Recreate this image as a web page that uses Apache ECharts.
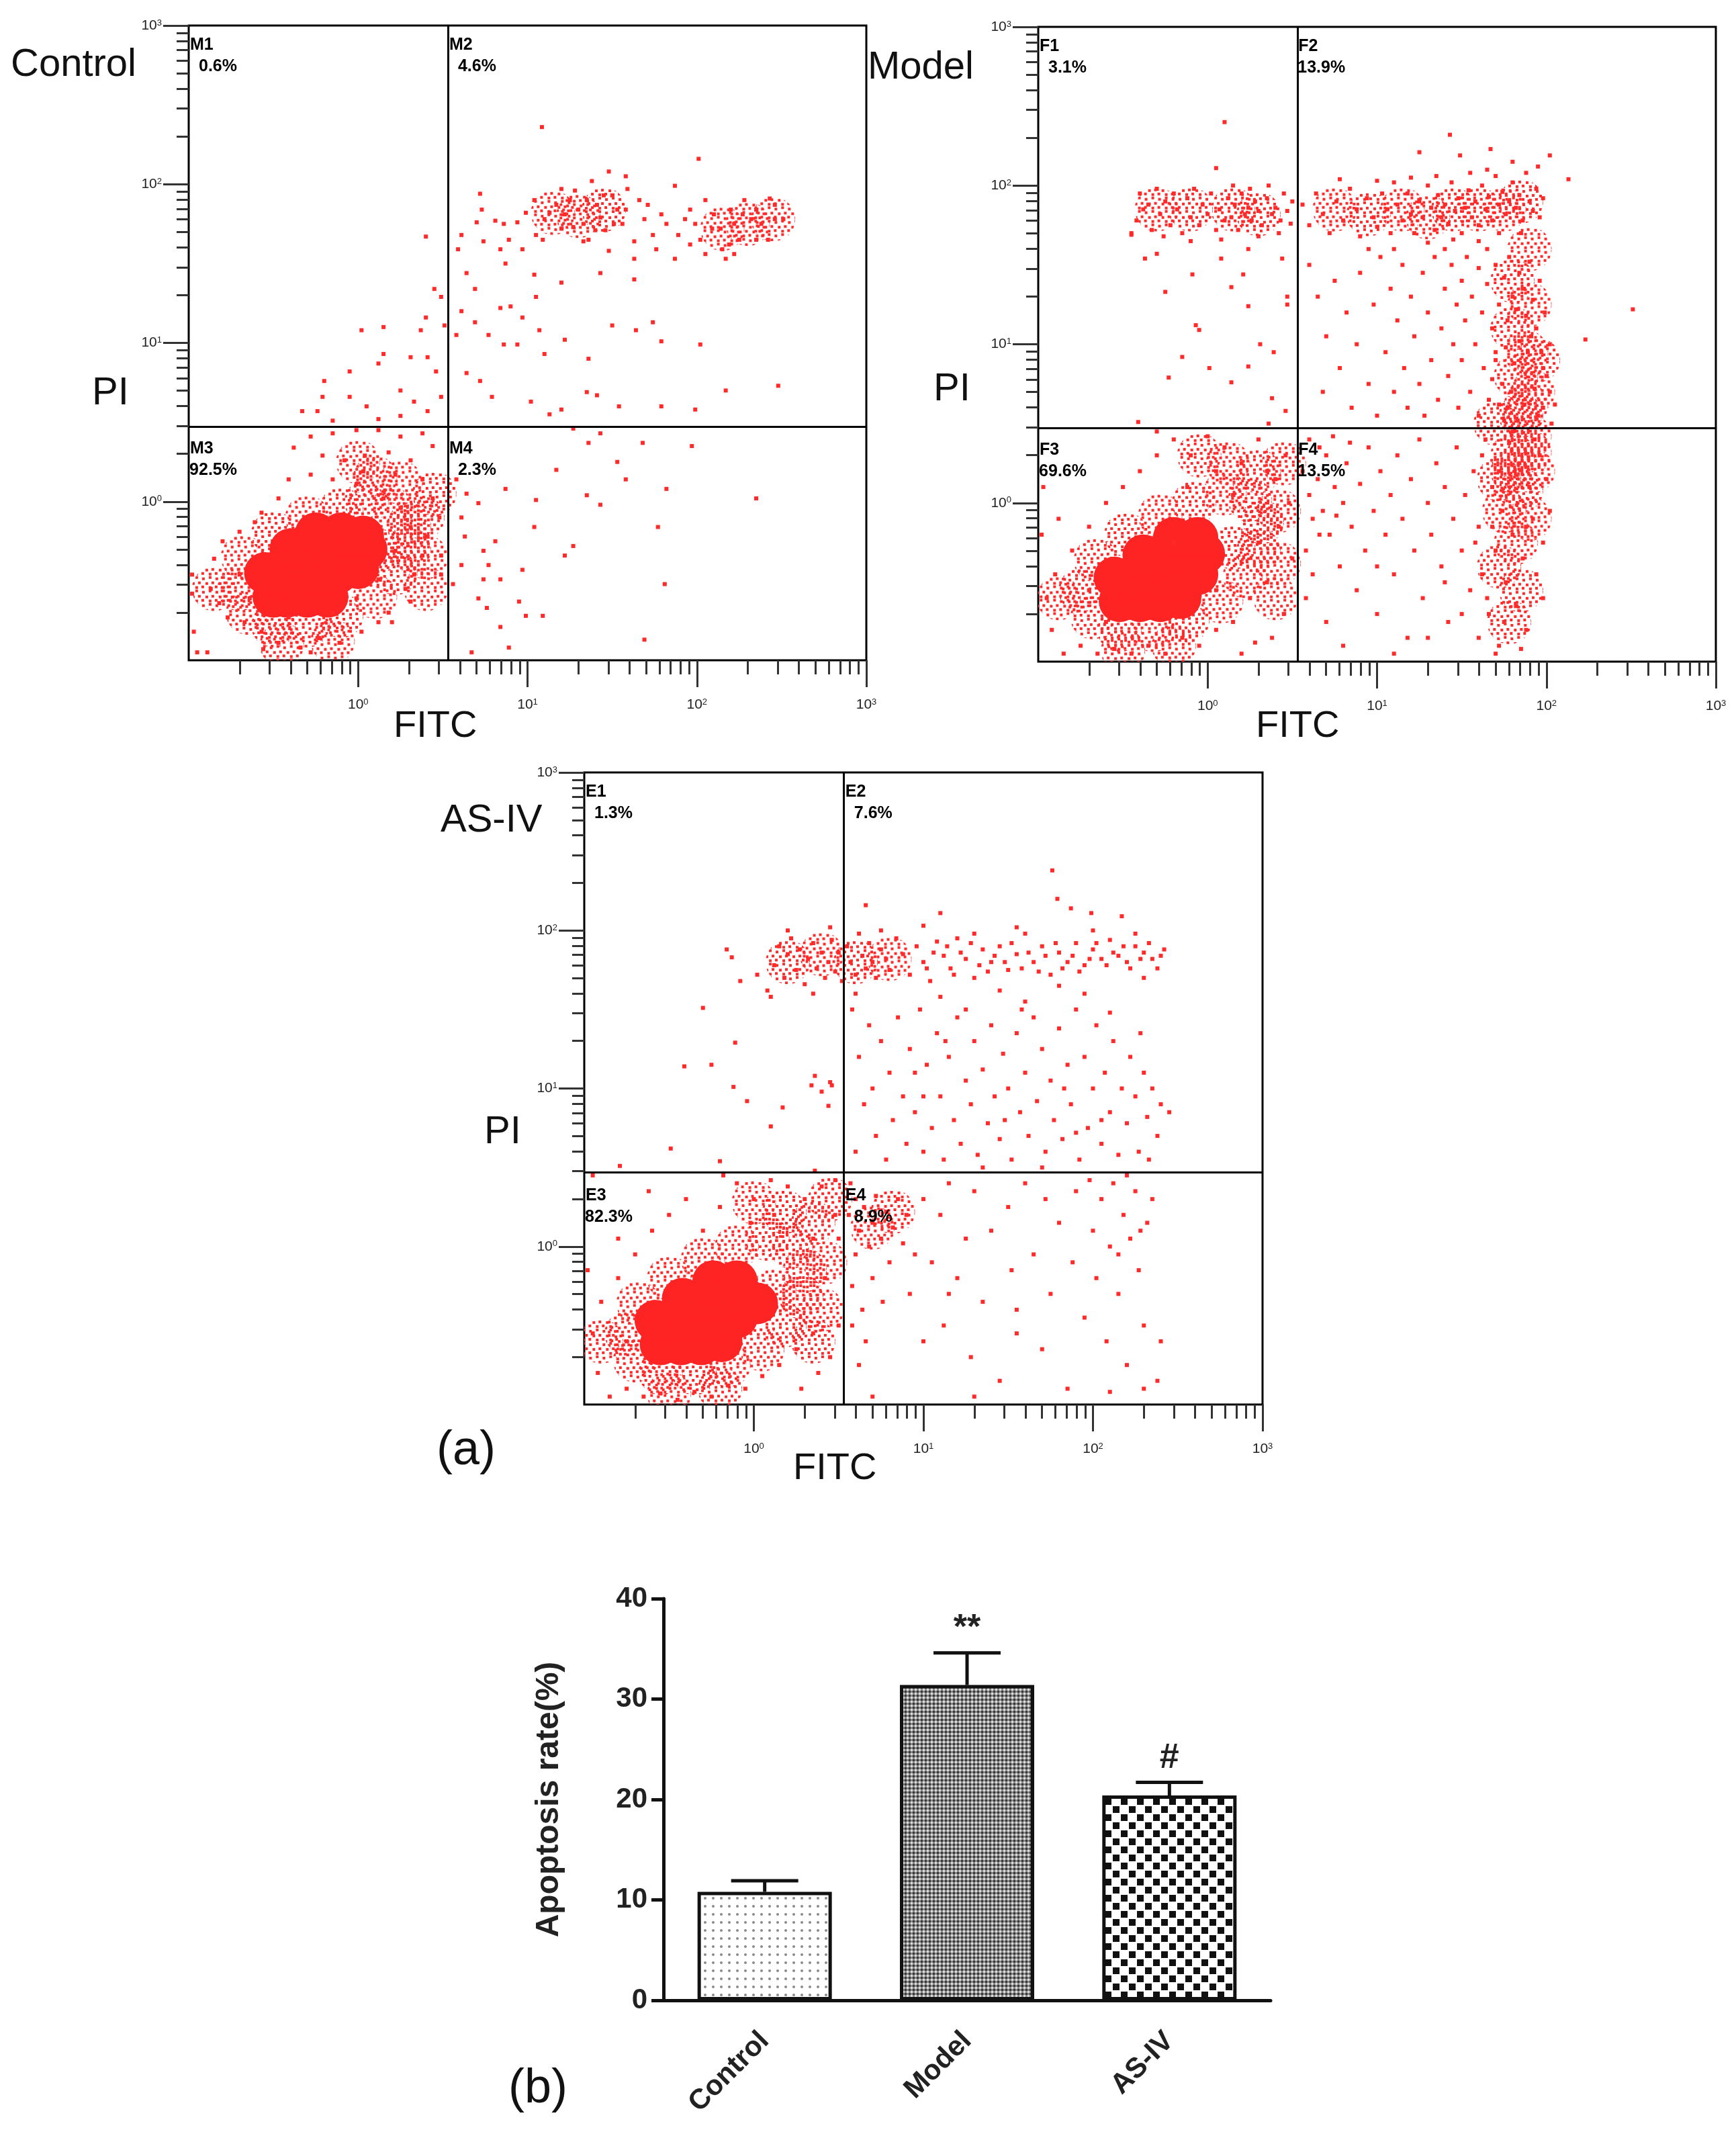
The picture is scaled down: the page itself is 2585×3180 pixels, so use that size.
<!DOCTYPE html>
<html>
<head>
<meta charset="utf-8">
<title>Apoptosis flow cytometry</title>
<script src="https://cdn.jsdelivr.net/npm/echarts@6/dist/echarts.min.js"></script>
<style>
  html, body { margin: 0; padding: 0; background: #fff; }
  #chart { width: 2585px; height: 3180px; }
</style>
</head>
<body>
<div id="chart"></div>
<script>
// Flow cytometry dot plots (Annexin V-FITC / PI) + apoptosis rate bar chart
// Dot plot coordinates are in log10 decades (x = FITC, y = PI)
// core = solid centre of the population, cloud = speckled dense areas, dots = single events

const FONT = '"Liberation Sans", Arial, sans-serif'

const panels = ['Control', 'Model', 'AS-IV']
const quadNames = [['M1', 'M2', 'M3', 'M4'], ['F1', 'F2', 'F3', 'F4'], ['E1', 'E2', 'E3', 'E4']]
const quadPct = [['0.6%', '4.6%', '92.5%', '2.3%'], ['3.1%', '13.9%', '69.6%', '13.5%'], ['1.3%', '7.6%', '82.3%', '8.9%']]
const gateX = [0.53, 0.527, 0.532]
const gateY = [0.475, 0.475, 0.465]
const decadeTicks = [0, 1, 2, 3]

// ---- Control ----
const ctrlCore = [[-0.5,-0.6],[-0.42,-0.6],[-0.3,-0.6],[-0.18,-0.6],[-0.55,-0.45],[-0.5,-0.45],[-0.37,-0.45],[-0.24,-0.45],[-0.12,-0.45],[0,-0.42],[-0.4,-0.3],[-0.28,-0.3],[-0.15,-0.3],[-0.02,-0.3],[0.05,-0.3],[-0.25,-0.2],[-0.1,-0.2],[0.03,-0.22]]
const ctrlCloud = [[-0.7,-0.55],[-0.65,-0.7],[-0.5,-0.78],[-0.3,-0.78],[-0.1,-0.72],[0.1,-0.6],[0.22,-0.45],[0.3,-0.3],[0.3,-0.15],[0.2,-0.05],[0.05,0],[-0.1,-0.05],[-0.3,-0.1],[-0.5,-0.2],[-0.68,-0.35],[0.15,-0.3],[0.4,-0.35],[0.38,-0.1],[0.25,0.12],[0.1,0.15],
  [-0.85,-0.55],[-0.45,-0.9],[-0.15,-0.88],[0.45,0.05],[0.4,-0.55],[0,0.25],
  [1.15,1.82],[1.3,1.8],[1.45,1.84],[2.15,1.72],[2.3,1.75],[2.45,1.78]]
const ctrlDots = [
  [1.085,2.36],[2.01,2.16],[1.48,2.08],[1.58,2.05],[0.72,1.94],[0.73,1.84],[0.61,1.68],[0.70,1.76],[0.81,1.77],[0.86,1.75],[0.94,1.76],[0.99,1.82],[1.05,1.68],[1.10,1.78],[1.17,1.87],[1.20,1.97],[1.25,1.90],[1.30,1.84],[1.33,1.75],[1.36,1.65],[1.38,2.02],[1.41,1.87],[1.43,1.79],[1.46,1.71],[1.50,1.93],[1.53,1.84],[1.56,1.75],[1.59,1.97],[1.63,1.64],[1.66,1.90],[1.69,1.78],[1.74,1.68],[1.79,1.81],[1.82,1.75],[1.87,1.99],[1.89,1.68],[1.96,1.84],[1.99,1.75],[2.02,1.65],[2.05,1.90],[2.10,1.81],[2.14,1.72],[2.15,1.59],[2.19,1.62],[2.20,1.84],[2.22,1.75],[2.25,1.65],[2.28,1.90],[2.32,1.78],[2.35,1.84],[2.38,1.75],[2.43,1.91],[2.46,1.87],[2.51,1.78],[2.42,1.65],[2.17,1.53],[2.22,1.56],[2.05,1.56],[1.96,1.62],[1.87,1.53],[1.76,1.59],[1.63,1.53],[1.48,1.58],[1.33,1.64],[1.20,1.72],[1.09,1.65],[0.97,1.59],[0.89,1.65],[1.28,1.96],[1.35,1.90],[1.22,1.81],[1.27,1.73],[1.40,1.71],[1.45,1.93],[1.51,1.75],[1.58,1.84],[1.71,1.87],[1.93,1.78],[2.09,1.72],[2.27,1.81],[2.35,1.65],[2.46,1.78],[1.04,1.90],[1.13,1.82],[0.74,1.64],[0.84,1.59],
  [0.87,1.50],[1.04,1.43],[1.05,1.29],[1.20,1.38],[1.43,1.44],[1.63,1.40],[0.61,1.20],[0.69,1.13],[0.77,1.05],[0.84,1.22],[0.90,1.23],[0.97,1.16],[0.86,0.99],[0.94,0.99],[1.07,1.08],[1.10,0.93],[1.22,1.02],[1.36,0.90],[1.50,1.11],[1.64,1.08],[1.74,1.13],[1.79,1.01],[2.02,0.99],[0.64,0.81],[0.72,0.76],[0.79,0.66],[1.02,0.63],[1.13,0.55],[1.20,0.58],[1.35,0.69],[1.41,0.67],[1.54,0.60],[1.79,0.60],[1.99,0.58],[2.17,0.70],[2.48,0.73],[0.59,1.59],[0.58,1.05],[0.64,1.44],[0.69,1.34],
  [0.40,1.67],[0.45,1.34],[0.40,1.16],[0.37,1.08],[0.02,1.08],[0.15,1.10],[0.15,0.93],[0.12,0.87],[0.31,0.91],[0.41,0.91],[0.46,0.82],[-0.05,0.82],[-0.20,0.76],[-0.21,0.66],[-0.33,0.57],[-0.24,0.57],[-0.05,0.66],[0.05,0.60],[0.25,0.70],[0.33,0.63],[0.41,0.57],[0.49,0.66],[0.25,0.54],[-0.15,0.51],[0.12,0.52],[0.51,1.11],[0.49,1.29],
  [-0.28,0.41],[-0.15,0.43],[-0.01,0.45],[0.12,0.45],[0.25,0.41],[0.38,0.43],[0.44,0.35],[-0.38,0.34],[-0.21,0.29],[-0.08,0.26],[0.04,0.29],[0.18,0.31],[0.31,0.26],[0.22,0.17],[0.03,0.19],[-0.15,0.14],[-0.28,0.17],[-0.41,0.14],[-0.47,0.02],[-0.57,-0.07],[0.38,0.14],[0.44,0.02],[0.48,-0.10],[0.41,-0.22],[0.38,-0.34],[0.33,-0.46],[0.28,-0.55],[0.18,-0.70],[0.12,-0.76],[0.02,-0.82],[-0.11,-0.89],[-0.23,-0.86],[-0.34,-0.92],[-0.47,-0.89],[-0.57,-0.82],[-0.67,-0.76],[-0.77,-0.73],[-0.82,-0.64],[-0.87,-0.55],[-0.85,-0.36],[-0.80,-0.25],[-0.70,-0.19],[-0.61,-0.13],[-0.97,-0.82],[-0.95,-0.95],[-0.89,-0.95],[-0.98,-0.58],[-0.98,-0.46],[-0.28,-0.95],[-0.56,-0.93],[0.20,-0.76],[0.31,-0.63],[0.49,-0.46],[0.49,-0.34],[0.25,-0.04],[0.15,0.02],[-0.01,0.11],[0.31,-0.16],[0.22,-0.31],[-0.15,-0.70],[-0.41,-0.73],[-0.64,-0.61],[-0.70,-0.46],[-0.01,-0.61],[0.12,-0.49],
  [0.58,0.14],[0.64,0.05],[0.71,-0.01],[0.61,-0.10],[0.63,-0.22],[0.74,-0.31],[0.77,-0.40],[0.81,-0.25],[0.84,-0.49],[0.71,-0.61],[0.76,-0.67],[0.67,-0.95],[0.89,-0.92],[0.97,-0.43],[1.04,-0.16],[1.05,0.01],[0.95,-0.63],[1.09,-0.72],[1.17,0.20],[1.27,-0.28],[1.35,0.04],[1.43,-0.02],[1.53,0.25],[1.58,0.14],[1.68,0.37],[1.77,-0.16],[1.81,-0.52],[1.82,0.08],[1.97,0.35],[2.35,0.02],[1.36,0.37],[1.43,0.43],[1.27,0.46],[1.69,-0.87],[0.61,-0.40],[0.56,-0.52],[0.74,-0.49],[0.87,0.08],[0.84,-0.79],[0.99,-0.72],[1.22,-0.34]
]

// ---- Model ----
const modelCore = [[-0.52,-0.62],[-0.4,-0.62],[-0.28,-0.62],[-0.16,-0.6],[-0.55,-0.47],[-0.42,-0.47],[-0.3,-0.47],[-0.18,-0.47],[-0.06,-0.45],[-0.38,-0.33],[-0.26,-0.33],[-0.14,-0.33],[-0.02,-0.32],[-0.2,-0.22],[-0.06,-0.22]]
const modelCloud = [[-0.75,-0.55],[-0.68,-0.72],[-0.52,-0.8],[-0.32,-0.8],[-0.12,-0.74],[0.08,-0.62],[0.22,-0.46],[0.3,-0.3],[0.32,-0.12],[0.25,0.02],[0.1,0.06],[-0.08,0],[-0.28,-0.08],[-0.48,-0.2],[-0.66,-0.36],[0.15,-0.28],[0.42,-0.38],[0.42,-0.05],[0.3,0.2],[0.12,0.25],[0.45,0.25],
  [-0.88,-0.6],[-0.5,-0.93],[-0.2,-0.9],[0.4,-0.6],[-0.05,0.3],
  [1.85,1.9],[1.75,1.85],[1.9,1.6],[1.8,1.4],[1.9,1.25],[1.8,1.1],[1.88,0.95],[1.82,0.8],[1.92,0.7],[1.85,0.55],[1.9,0.42],[1.8,0.3],[1.92,0.2],[1.85,0.08],[1.75,-0.05],[1.9,-0.1],[1.82,-0.25],[1.72,-0.4],[1.85,-0.55],[1.78,-0.75],[1.7,0.5],[1.95,0.9],[1.72,0.15],[1.88,0.62],[1.8,0.2],[1.9,0.32],
  [1.6,1.85],[1.45,1.85],[1.3,1.8],[1.15,1.85],[0.95,1.82],[0.75,1.85],[0.15,1.85],[0.3,1.82],[-0.1,1.85],[-0.3,1.85]]
const modelDots = [
  [0.10,2.40],[0.05,2.11],
  [-0.42,1.78],[-0.4,1.95],[-0.35,1.88],[-0.33,1.72],[-0.3,1.98],[-0.28,1.82],[-0.25,1.9],[-0.22,1.75],[-0.2,1.95],[-0.18,1.85],[-0.15,1.7],[-0.12,1.92],[-0.1,1.8],[-0.08,1.98],[-0.05,1.75],[-0.03,1.88],[0,1.82],[0.02,1.95],[0.05,1.72],[0.07,1.85],[0.1,1.78],[0.12,1.92],[0.14,1.8],[0.16,1.88],[0.18,1.72],[0.2,1.95],[0.22,1.82],[0.24,1.86],[0.26,1.78],[0.28,1.9],[0.3,1.84],[0.32,1.75],[0.35,1.92],[0.38,1.82],[0.4,1.86],[0.43,1.78],[0.45,1.95],[0.47,1.84],[0.5,1.9],[0.49,1.76],[-0.38,1.85],[-0.26,1.68],[0.08,1.66],[0.3,1.68],[-0.1,1.65],[0.42,1.7],[-0.45,1.7],[0.15,2.0],[0.36,2.0],[0.25,1.98],
  [-0.30,1.57],[-0.25,1.33],[-0.09,1.44],[0.21,1.44],[0.14,1.36],[0.47,1.30],[0.47,1.25],[-0.07,1.12],[-0.05,1.09],[0.24,1.24],[0.31,1.00],[0.39,0.95],[-0.15,0.92],[0.01,0.85],[0.14,0.76],[-0.23,0.79],[0.24,0.86],[0.38,0.66],[-0.41,0.51],[0.46,0.58],[0.36,0.50],[0.44,1.54],[0.08,1.54],[0.24,1.60],[-0.37,1.54],[-0.45,1.69],
  [2.13,2.04],[2.51,1.22],[2.23,1.03],[2.02,2.19],[1.43,2.32],[1.25,2.21],[1.49,2.19],[1.67,2.23],
  [0.56,1.88],[0.6,1.75],[0.64,1.95],[0.68,1.82],[0.72,1.7],[0.76,1.9],[0.8,1.78],[0.84,1.98],[0.88,1.85],[0.9,1.68],[0.94,1.92],[0.98,1.8],[1.0,1.74],[1.03,1.95],[1.06,1.85],[1.08,1.7],[1.1,2.02],[1.12,1.88],[1.15,1.78],[1.18,1.95],[1.2,1.82],[1.22,1.7],[1.25,1.9],[1.27,1.8],[1.3,2.0],[1.32,1.86],[1.34,1.72],[1.36,1.94],[1.38,1.8],[1.4,1.88],[1.42,1.76],[1.44,2.02],[1.46,1.84],[1.48,1.92],[1.5,1.7],[1.52,1.86],[1.54,1.97],[1.56,1.8],[1.58,1.9],[1.6,1.75],[1.62,2.0],[1.64,1.85],[1.66,1.93],[1.68,1.78],[1.7,2.06],[1.72,1.88],[1.74,1.96],[1.76,1.82],[1.78,1.9],[1.8,2.02],[1.82,1.86],[1.84,1.94],[1.86,1.78],[1.88,2.08],[1.9,1.9],[1.92,1.84],[1.94,1.98],[1.96,1.8],[1.98,1.92],[1.72,1.7],[1.6,1.65],[1.45,1.66],[1.3,1.64],[1.85,1.7],[1.95,2.12],[1.8,2.15],[1.65,2.1],[1.55,2.08],[1.35,2.06],[1.2,2.05],[1.0,2.03],[0.78,2.04],
  [0.6,1.5],[0.65,1.3],[0.7,1.05],[0.68,0.7],[0.75,1.4],[0.78,0.85],[0.82,1.2],[0.85,0.6],[0.88,1.0],[0.9,1.45],[0.95,0.75],[0.98,1.25],[1.0,0.55],[1.02,1.55],[1.05,0.95],[1.08,1.35],[1.1,0.7],[1.12,1.15],[1.15,1.5],[1.16,0.85],[1.18,0.6],[1.2,1.3],[1.22,1.05],[1.25,0.75],[1.27,1.45],[1.28,0.55],[1.3,1.2],[1.32,0.9],[1.34,1.55],[1.36,0.65],[1.38,1.1],[1.4,1.35],[1.42,0.8],[1.44,1.5],[1.45,1.0],[1.47,1.25],[1.48,0.6],[1.5,1.4],[1.5,0.9],[1.52,1.15],[1.53,1.55],[1.55,0.7],[1.56,1.3],[1.58,1.0],[1.6,1.48],[1.6,0.55],[1.62,1.2],[1.63,0.85],[1.65,1.38],[1.66,0.65],[1.68,1.1],[1.7,1.5],[1.7,0.95],[1.72,1.25],[1.74,0.75],[1.75,1.42],[1.77,1.15],[1.78,1.55],[1.8,1.3],[1.82,1.22],[1.84,1.45],[1.86,1.35],[1.88,1.18],[1.9,1.52],[1.92,1.28],[1.94,1.1],[1.96,1.4],[1.97,0.95],[1.99,1.2],[2.0,0.8],[2.02,1.0],[1.98,0.6],[2.03,0.5],[1.65,1.6],[1.4,1.6],[0.95,1.6],[1.1,1.6],
  [1.7,0.9],[1.72,0.62],[1.76,0.98],[1.79,0.7],[1.81,0.88],[1.83,0.52],[1.87,0.62],[1.89,0.95],[1.93,0.72],[1.95,0.55],[1.98,0.85],[1.75,0.52],[1.68,0.78],[1.91,1.05],[1.84,1.02],[1.77,0.6],[2.02,0.7],[2.05,0.62],
  [0.56,0.2],[0.6,0.05],[0.62,-0.1],[0.58,-0.3],[0.65,0.15],[0.68,-0.05],[0.7,0.3],[0.72,-0.2],[0.75,0.1],[0.78,-0.4],[0.8,0],[0.82,0.25],[0.85,-0.15],[0.88,-0.55],[0.9,0.12],[0.93,-0.3],[0.95,0.35],[0.98,-0.05],[1.0,-0.7],[1.02,0.2],[1.05,-0.2],[1.08,0.05],[1.1,-0.45],[1.12,0.3],[1.15,-0.1],[1.18,-0.85],[1.2,0.15],[1.22,-0.3],[1.25,0.4],[1.27,-0.6],[1.3,0],[1.32,-0.2],[1.35,0.25],[1.38,-0.4],[1.4,0.1],[1.42,-0.75],[1.45,-0.1],[1.47,0.35],[1.5,-0.3],[1.52,0.05],[1.55,-0.55],[1.57,0.2],[1.6,-0.15],[1.62,-0.45],[1.64,0.4],[1.66,-0.7],[1.68,0.1],[1.7,-0.3],[1.72,-0.9],[1.74,-0.05],[1.76,-0.5],[1.78,0.38],[1.8,-0.2],[1.82,-0.65],[1.84,0.25],[1.86,-0.35],[1.88,-0.8],[1.9,0.1],[1.92,-0.1],[1.94,-0.45],[1.96,0.3],[1.98,-0.25],[2.0,0.15],[1.98,-0.6],[2.02,-0.05],[1.7,-0.95],[1.85,-0.92],[1.6,-0.85],[1.65,-0.6],[1.75,-0.75],[1.58,-0.25],[1.68,-0.15],[1.88,-0.15],[1.93,0.4],[1.8,0.45],[1.62,0.3],[1.72,0.2],[1.5,-0.7],[1.4,-0.5],[1.1,-0.95],[0.8,-0.9],[0.7,-0.75],[0.58,-0.6],[1.3,-0.85],[1.0,-0.4],[0.6,0.4],[0.66,0.35],[0.74,0.42],[0.62,-0.45],[0.66,-0.2],[0.76,-0.08],[0.84,0.38],
  [-0.95,-0.6],[-0.9,-0.45],[-0.92,-0.8],[-0.85,-0.95],[-0.8,-0.3],[-0.75,-0.9],[-0.7,-0.15],[-0.65,-0.95],[-0.6,0],[-0.55,-0.92],[-0.5,0.1],[-0.45,-0.95],[-0.4,0.2],[-0.35,-0.9],[-0.3,0.3],[-0.25,-0.95],[-0.2,0.4],[-0.15,-0.85],[-0.1,0.3],[-0.05,-0.9],[0,0.42],[0.05,-0.8],[0.1,0.35],[0.15,-0.75],[0.2,0.25],[0.25,-0.6],[0.3,0.4],[0.35,-0.5],[0.4,0.15],[0.45,-0.7],[0.48,0],[0.5,-0.35],[0.42,-0.15],[0.46,0.3],[0.38,-0.85],[0.28,-0.88],[0.2,-0.95],[-0.98,-0.2],[-0.97,0.1],[-0.88,-0.1],[-0.3,0.45],[0.05,0.2],[0.15,0.05],[-0.12,0.1],[-0.6,-0.75],[-0.7,-0.55],[0.3,-0.25],[0.35,0.2],[0.05,-0.55],[-0.2,-0.25]
]

// ---- AS-IV ----
const asivCore = [[-0.55,-0.62],[-0.43,-0.62],[-0.31,-0.62],[-0.19,-0.6],[-0.58,-0.47],[-0.46,-0.47],[-0.34,-0.47],[-0.22,-0.47],[-0.1,-0.45],[-0.42,-0.33],[-0.3,-0.33],[-0.18,-0.33],[-0.06,-0.32],[0.02,-0.36],[-0.24,-0.22],[-0.1,-0.22]]
const asivCloud = [[-0.75,-0.55],[-0.7,-0.72],[-0.55,-0.8],[-0.35,-0.8],[-0.15,-0.75],[0.05,-0.65],[0.18,-0.5],[0.28,-0.32],[0.3,-0.15],[0.22,0],[0.08,0.05],[-0.1,0],[-0.3,-0.08],[-0.5,-0.2],[-0.68,-0.36],[0.12,-0.28],[0.4,-0.4],[0.42,-0.1],[0.35,0.15],[0.18,0.22],[0.45,0.3],
  [-0.9,-0.6],[-0.5,-0.93],[-0.2,-0.9],[0.35,-0.6],[0,0.28],
  [0.2,1.8],[0.4,1.85],[0.6,1.8],[0.8,1.82],[0.7,0.12],[0.82,0.22]]
const asivDots = [
  [1.76,2.38],[0.66,2.16],[1.10,2.11],[1.79,2.20],[1.99,2.11],[2.17,2.09],[1.87,2.14],
  [0.08,1.62],[0.12,1.78],[0.15,1.9],[0.18,1.7],[0.2,1.85],[0.22,1.95],[0.25,1.75],[0.27,1.88],[0.3,1.66],[0.32,1.82],[0.35,1.92],[0.37,1.76],[0.4,1.86],[0.42,1.7],[0.44,1.8],[0.46,1.94],[0.48,1.74],[0.5,1.86],[0.52,1.68],[0.55,1.9],[0.57,1.8],[0.6,1.72],[0.62,1.98],[0.64,1.84],[0.66,1.76],[0.68,1.92],[0.7,1.8],[0.72,1.7],[0.75,1.88],[0.78,1.82],[0.8,1.75],[0.84,1.95],[0.88,1.85],[0.92,1.72],[0.96,1.9],[1.0,1.8],[1.04,1.68],[1.08,1.93],[1.12,1.84],[1.16,1.76],[1.2,1.95],[1.25,1.82],[1.3,1.7],[1.35,1.88],[1.4,1.8],[1.45,1.9],[1.5,1.75],[1.55,1.85],[1.6,1.98],[1.65,1.8],[1.7,1.9],[1.75,1.72],[1.8,1.86],[1.85,1.8],[1.9,1.92],[1.95,1.78],[2.0,1.88],[2.05,1.82],[2.1,1.94],[2.15,1.84],[2.2,1.8],[2.25,1.9],[2.3,1.86],[2.35,1.82],[2.4,1.84],[2.0,2.0],[1.55,2.02],[1.3,1.98],[1.0,2.03],[0.75,2.0],[0.45,2.02],[0.2,2.0],[2.25,1.98],[1.8,1.65],[1.45,1.62],[1.1,1.58],[0.6,1.6],[0.35,1.6],[2.3,1.7],[1.95,1.6],[1.6,1.55],[-0.13,1.83],[-0.08,1.68],[0.02,1.72],[0.1,1.58],
  [1.02,1.76],[1.06,1.86],[1.14,1.9],[1.18,1.72],[1.22,1.86],[1.28,1.92],[1.33,1.78],[1.38,1.74],[1.42,1.84],[1.48,1.8],[1.52,1.92],[1.58,1.76],[1.62,1.86],[1.68,1.74],[1.72,1.84],[1.78,1.92],[1.82,1.76],[1.88,1.84],[1.92,1.74],[1.98,1.82],[2.02,1.92],[2.08,1.78],[2.12,1.86],[2.18,1.9],[2.22,1.76],[2.28,1.82],[2.33,1.92],[2.38,1.76],[2.42,1.88],
  [-0.16,1.88],[-0.30,1.51],[-0.41,1.14],[-0.25,1.15],[-0.11,1.29],[-0.12,1.01],[-0.04,0.92],[0.17,0.88],[0.36,1.08],[0.40,0.98],[0.44,0.89],[0.46,1.02],[0.10,0.76],[-0.49,0.62],[-0.79,0.51],[-0.20,0.54],[0.36,0.48],[0.45,1.04],[0.34,1.02],
  [0.58,1.5],[0.62,1.2],[0.65,0.9],[0.6,0.6],[0.68,1.4],[0.7,1.0],[0.72,0.7],[0.75,1.3],[0.78,0.55],[0.8,1.1],[0.82,0.8],[0.85,1.45],[0.88,0.95],[0.9,0.65],[0.92,1.25],[0.95,0.85],[0.98,1.5],[1.0,0.6],[1.02,1.15],[1.05,0.75],[1.08,1.35],[1.1,0.95],[1.12,0.55],[1.15,1.2],[1.18,0.8],[1.2,1.45],[1.22,0.65],[1.25,1.05],[1.28,0.9],[1.3,1.3],[1.32,0.58],[1.35,1.12],[1.38,0.78],[1.4,1.4],[1.42,0.95],[1.45,0.68],[1.47,1.22],[1.5,1.0],[1.52,0.55],[1.55,1.35],[1.57,0.85],[1.6,1.1],[1.62,0.7],[1.65,1.45],[1.67,0.92],[1.7,1.25],[1.72,0.6],[1.75,1.05],[1.77,0.8],[1.8,1.38],[1.82,0.68],[1.85,1.15],[1.87,0.9],[1.9,1.5],[1.92,0.55],[1.95,1.2],[1.97,0.75],[2.0,1.0],[2.02,1.4],[2.05,0.65],[2.07,1.1],[2.1,0.85],[2.12,1.3],[2.15,0.58],[2.17,1.0],[2.2,0.78],[2.22,1.2],[2.25,0.95],[2.27,0.6],[2.3,1.1],[2.32,0.82],[2.35,1.0],[2.38,0.7],[2.4,0.9],[2.33,0.55],[2.28,1.35],[1.58,1.5],[1.25,1.5],[1.0,0.95],[1.13,1.3],[1.48,0.8],[1.83,1.0],[2.1,1.48],[1.7,0.5],[1.35,0.5],[0.95,1.1],[2.45,0.85],[2.05,0.8],[1.9,0.72],
  [0.56,0.2],[0.6,0.3],[0.62,0.1],[0.65,0.25],[0.68,0],[0.7,0.15],[0.72,0.32],[0.75,0.05],[0.78,0.22],[0.8,-0.1],[0.82,0.12],[0.85,0.3],[0.88,0.02],[0.6,-0.05],[0.58,-0.25],[0.64,-0.4],[0.7,-0.2],[0.66,-0.6],[0.76,-0.35],[0.9,0.2],[0.95,-0.05],[0.92,-0.3],[0.58,-0.5],[0.62,-0.75],[0.7,-0.95],[0.57,0.4],
  [1.0,0.3],[1.05,-0.1],[1.1,0.2],[1.12,-0.5],[1.15,0.4],[1.2,-0.2],[1.25,0.05],[1.28,-0.7],[1.3,0.35],[1.35,-0.35],[1.4,0.1],[1.45,-0.85],[1.5,0.25],[1.52,-0.15],[1.55,-0.55],[1.6,0.4],[1.65,-0.05],[1.7,-0.65],[1.72,0.3],[1.75,-0.3],[1.8,0.15],[1.85,-0.9],[1.88,-0.1],[1.9,0.35],[1.95,-0.45],[2.0,0.1],[2.02,-0.2],[2.05,0.3],[2.08,-0.6],[2.1,0],[2.12,0.4],[2.15,-0.3],[2.18,0.2],[2.2,-0.75],[2.22,0.05],[2.25,0.35],[2.27,-0.15],[2.3,-0.5],[2.32,0.15],[2.35,0.3],[2.38,-0.85],[2.1,-0.92],[2.3,-0.9],[2.4,-0.6],[1.98,0.42],[2.2,0.45],[1.3,-0.95],[1.0,-0.6],[1.55,-0.4],[1.15,-0.3],[2.15,-0.05],[2.28,0.1],
  [-0.95,-0.55],[-0.92,-0.8],[-0.85,-0.95],[-0.9,-0.35],[-0.8,-0.2],[-0.75,-0.9],[-0.7,-0.05],[-0.65,-0.95],[-0.6,0.1],[-0.55,-0.93],[-0.5,0.2],[-0.45,-0.97],[-0.4,0.3],[-0.35,-0.92],[-0.3,0.1],[-0.25,-0.95],[-0.2,0.25],[-0.15,-0.88],[-0.1,0.4],[-0.05,-0.9],[0,0.3],[0.05,-0.82],[0.1,0.42],[0.15,-0.75],[0.2,0.38],[0.25,-0.65],[0.3,0.3],[0.35,-0.55],[0.4,0.38],[0.45,-0.7],[0.48,0.2],[0.5,-0.5],[0.48,0.42],[0.38,-0.8],[0.28,-0.9],[-0.98,-0.15],[-0.95,0.45],[-0.8,0.05],[-0.62,0.35],[-0.18,0.45],[0.12,0.2],[-0.02,0.15],[0.35,0.05],[-0.75,-0.6],[0.42,-0.2],[0.5,0.05]
]

// ---- bar chart (b) ----
const groups = ['Control', 'Model', 'AS-IV']
const rates = [10.8, 31.4, 20.4]
const rateErr = [1.1, 3.2, 1.3]
const sigMarks = ['', '**', '#']

const cores = [ctrlCore, modelCore, asivCore]
const clouds = [ctrlCloud, modelCloud, asivCloud]
const dots = [ctrlDots, modelDots, asivDots]

// minor log ticks (2..9 within each decade)
const minorDecades = []
for (let d = -1; d < 3; d++) for (let k = 2; k <= 9; k++) minorDecades.push(d + Math.log10(k))

const plotGrids = [
  { left: 281, top: 38, width: 1009, height: 945 },
  { left: 1546, top: 40, width: 1009, height: 945 },
  { left: 870, top: 1150, width: 1010, height: 941 }
]
const barGrid = { left: 988, top: 2380, width: 904, height: 598 }

function makePattern(size, draw) {
  const c = document.createElement('canvas')
  c.width = size; c.height = size
  const ctx = c.getContext('2d')
  draw(ctx, size)
  return { image: c, repeat: 'repeat' }
}

// speckle texture for dense event clouds
const speckle = makePattern(20, ctx => {
  ctx.fillStyle = '#ff2a2a'
  ;[[2, 3], [12, 1], [7, 10], [16, 9], [1, 15], [12, 16]].forEach(p => ctx.fillRect(p[0], p[1], 4, 4))
})

const barPatterns = [
  makePattern(12, (ctx, s) => {
    ctx.fillStyle = '#fff'; ctx.fillRect(0, 0, s, s)
    ctx.fillStyle = '#8a8a8a'
    ctx.beginPath(); ctx.arc(6, 6, 2, 0, Math.PI * 2); ctx.fill()
  }),
  makePattern(6, (ctx, s) => {
    ctx.fillStyle = '#888'; ctx.fillRect(0, 0, s, s)
    ctx.fillStyle = '#dcdcdc'; ctx.fillRect(0, 0, 3, 3)
    ctx.fillStyle = '#383838'; ctx.fillRect(3, 3, 3, 3)
  }),
  makePattern(24, (ctx, s) => {
    ctx.fillStyle = '#fff'; ctx.fillRect(0, 0, s, s)
    ctx.fillStyle = '#111'
    ctx.fillRect(1, 1, 10, 10); ctx.fillRect(13, 13, 10, 10)
  })
]

const decadeRich = {
  b: { fontSize: 21, fontFamily: FONT, color: '#222', lineHeight: 21, padding: [12, 0, 0, 0], verticalAlign: 'bottom' },
  s: { fontSize: 13, fontFamily: FONT, color: '#222', lineHeight: 14, verticalAlign: 'top' }
}
const decadeLabel = v => '{b|10}{s|' + v + '}'
const tickStyle = { color: '#333', width: 3 }

const grids = plotGrids.map(g => ({ ...g, show: true, borderColor: '#000', borderWidth: 3, backgroundColor: 'transparent' }))
grids.push({ ...barGrid })

const xAxes = []
const yAxes = []
plotGrids.forEach((g, i) => {
  const base = { gridIndex: i, type: 'value', min: -1, max: 3, splitLine: { show: false }, axisLine: { show: false, onZero: false } }
  xAxes.push({ ...base, position: 'bottom',
    axisTick: { customValues: decadeTicks, length: 40, lineStyle: tickStyle },
    axisLabel: { customValues: decadeTicks, margin: 56, formatter: decadeLabel, rich: decadeRich } })
  xAxes.push({ ...base, position: 'bottom',
    axisTick: { customValues: minorDecades, length: 21, lineStyle: tickStyle }, axisLabel: { show: false } })
  yAxes.push({ ...base, position: 'left',
    axisTick: { customValues: decadeTicks, length: 38, lineStyle: tickStyle },
    axisLabel: { customValues: decadeTicks, margin: 40, formatter: decadeLabel, rich: decadeRich } })
  yAxes.push({ ...base, position: 'left',
    axisTick: { customValues: minorDecades, length: 18, lineStyle: tickStyle }, axisLabel: { show: false } })
})

// bar chart axes
xAxes.push({
  gridIndex: 3, type: 'category', data: groups,
  axisLine: { lineStyle: { color: '#111', width: 5 } },
  axisTick: { alignWithLabel: true, length: 20, lineStyle: { color: '#111', width: 5 } },
  axisLabel: { rotate: 45, margin: 54, color: '#222', fontSize: 42, fontWeight: 'bold', fontFamily: FONT }
})
yAxes.push({
  gridIndex: 3, type: 'value', min: 0, max: 40, interval: 10,
  name: 'Apoptosis rate(%)', nameLocation: 'middle', nameRotate: 90, nameGap: 146,
  nameTextStyle: { fontSize: 48, fontWeight: 'bold', color: '#222', fontFamily: FONT },
  splitLine: { show: false },
  axisLine: { show: true, lineStyle: { color: '#111', width: 5 } },
  axisTick: { show: true, length: 18, lineStyle: { color: '#111', width: 5 } },
  axisLabel: { margin: 24, color: '#222', fontSize: 42, fontWeight: 'bold', fontFamily: FONT }
})

const series = []
plotGrids.forEach((g, i) => {
  const axes = { xAxisIndex: 2 * i, yAxisIndex: 2 * i }
  // speckled clouds: each circle carries its own pattern origin so overlaps build density
  series.push({ ...axes, type: 'custom', name: panels[i] + ' cloud', data: clouds[i], silent: true, z: 2, clip: true,
    renderItem(params, api) {
      const p = api.coord([api.value(0), api.value(1)])
      return { type: 'circle', x: p[0], y: p[1], shape: { cx: 0, cy: 0, r: 33 }, style: { fill: speckle } }
    } })
  series.push({ ...axes, type: 'scatter', name: panels[i] + ' core', data: cores[i], symbol: 'circle', symbolSize: 62,
    itemStyle: { color: '#ff2424', opacity: 1 }, silent: true, z: 3, clip: true })
  series.push({ ...axes, type: 'scatter', name: panels[i], data: dots[i], symbol: 'rect', symbolSize: 6,
    itemStyle: { color: '#ff2a2a', opacity: 1 }, silent: true, z: 4,
    markLine: {
      silent: true, symbol: ['none', 'none'], label: { show: false },
      lineStyle: { color: '#000', width: 3, type: 'solid' },
      data: [{ xAxis: gateX[i] }, { yAxis: gateY[i] }]
    } })
})

series.push({
  type: 'bar', xAxisIndex: 6, yAxisIndex: 6, barWidth: 200,
  data: rates.map((v, i) => ({ value: v, itemStyle: { color: barPatterns[i] } })),
  itemStyle: { borderColor: '#111', borderWidth: 5 }, silent: true
})
series.push({
  type: 'custom', xAxisIndex: 6, yAxisIndex: 6, silent: true, z: 5,
  data: rates.map((v, i) => [i, v, rateErr[i]]),
  renderItem(params, api) {
    const base = api.coord([api.value(0), api.value(1)])
    const top = api.coord([api.value(0), api.value(1) + api.value(2)])
    const half = 50
    const line = { stroke: '#111', lineWidth: 5 }
    const children = [
      { type: 'line', shape: { x1: base[0], y1: base[1], x2: top[0], y2: top[1] }, style: line },
      { type: 'line', shape: { x1: top[0] - half, y1: top[1], x2: top[0] + half, y2: top[1] }, style: line }
    ]
    const mark = sigMarks[params.dataIndex]
    if (mark) {
      children.push({ type: 'text', style: { text: mark, x: top[0], y: top[1] - 10,
        textAlign: 'center', textVerticalAlign: 'bottom', align: 'center', verticalAlign: 'bottom',
        fontSize: 52, fontWeight: 'bold', fontFamily: FONT, fill: '#222' } })
    }
    return { type: 'group', children }
  }
})

const chart = echarts.init(document.getElementById('chart'), null, { renderer: 'canvas' })
chart.setOption({
  animation: false,
  backgroundColor: '#fff',
  grid: grids,
  xAxis: xAxes,
  yAxis: yAxes,
  series
})

function text(str, x, y, size, opts = {}) {
  return {
    type: 'text', silent: true, z: 10,
    style: {
      text: str, x, y, fill: opts.fill || '#111', fontSize: size, fontFamily: FONT,
      fontWeight: opts.weight || 'normal',
      textAlign: opts.align || 'left', align: opts.align || 'left',
      textVerticalAlign: opts.valign || 'middle', verticalAlign: opts.valign || 'middle'
    }
  }
}

// panel titles and axis names
const graphics = [
  text('Control', 16, 97, 58), text('PI', 137, 586, 58), text('FITC', 586, 1082, 56),
  text('Model', 1292, 101, 58), text('PI', 1390, 580, 58), text('FITC', 1870, 1082, 56),
  text('AS-IV', 656, 1222, 58), text('PI', 721, 1686, 58), text('FITC', 1181, 2187, 56),
  text('(a)', 650, 2160, 72), text('(b)', 757, 3110, 72)
]

// quadrant names and percentages, anchored to the frame and gate lines
plotGrids.forEach((g, i) => {
  const finder = { xAxisIndex: 2 * i, yAxisIndex: 2 * i }
  const corner = chart.convertToPixel(finder, [-1, 3])
  const gate = chart.convertToPixel(finder, [gateX[i], gateY[i]])
  const cols = [corner[0], gate[0]]
  const rows = [corner[1], gate[1]]
  for (let q = 0; q < 4; q++) {
    const qx = cols[q % 2]
    const qy = rows[Math.floor(q / 2)] + (q < 2 ? 17 : 21)
    graphics.push(text(quadNames[i][q], qx + 2, qy, 25, { weight: 'bold', valign: 'top', fill: '#000' }))
    graphics.push(text(quadPct[i][q], qx + 72, qy + 32, 25, { weight: 'bold', valign: 'top', align: 'right', fill: '#000' }))
  }
})

chart.setOption({ graphic: graphics })
</script>
</body>
</html>
